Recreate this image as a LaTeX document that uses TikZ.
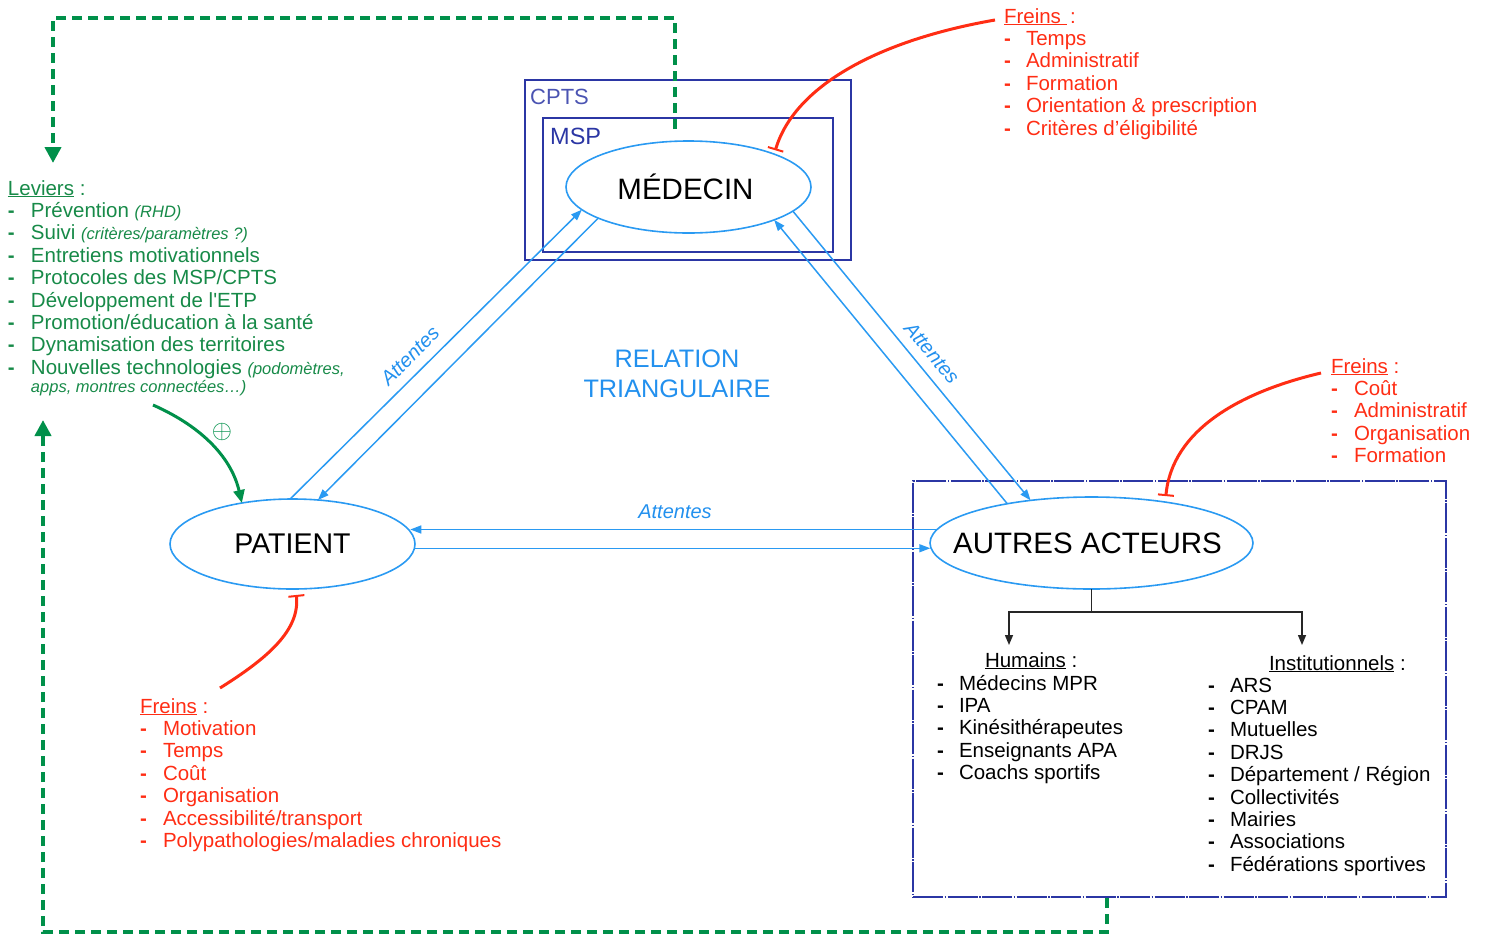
\documentclass[tikz,border=0pt]{standalone}
\usepackage{fontspec}
\setmainfont{Liberation Sans}
\usetikzlibrary{arrows.meta,shapes.geometric}
\definecolor{fred}{HTML}{FF2D14}
\definecolor{fgreen}{HTML}{178A48}
\definecolor{dgreen}{HTML}{00904A}
\definecolor{lblue}{HTML}{2A9AF2}
\definecolor{tblue}{HTML}{2290EE}
\definecolor{navy}{HTML}{2B36A4}
\newcommand\dsh{\textbf{-}}
\begin{document}
\begin{tikzpicture}[x=1pt,y=-1pt,
  lst/.style={inner sep=0pt, outer sep=0pt, anchor=base west, font=\fontsize{20.5}{22.4}\selectfont},
  ell/.style={ellipse, draw=lblue, line width=1.6pt, inner sep=0pt, outer sep=0pt},
  bl/.style={draw=lblue, line width=1.5pt, -{Triangle[length=11pt,width=8pt]}},
  att/.style={text=tblue, font=\fontsize{20}{20}\selectfont\itshape, inner sep=0pt},
  frein/.style={draw=fred, line width=3pt, -{Bar[width=16pt,line width=2pt]}},
  gd/.style={draw=dgreen, line width=4pt, dash pattern=on 10pt off 6pt, -{Triangle[length=16pt,width=16pt]}},
  tk/.style={draw=black!85, line width=1.5pt, -{Triangle[length=10pt,width=8pt]}},
  boxr/.style={draw=navy, line width=1.3pt, inner sep=0pt, outer sep=0pt}]
\useasboundingbox (0,0) rectangle (1486,935);

% boxes
\node[boxr, minimum width=326pt, minimum height=180pt] (cpts) at (688,170) {};
\node[boxr, minimum width=290pt, minimum height=134pt] (msp) at (688,185) {};
\node[anchor=base west, inner sep=0pt, text=navy!85, font=\fontsize{22}{22}\selectfont] (cptsl) at (530,104) {CPTS};
\node[anchor=base west, inner sep=0pt, text=navy, font=\fontsize{23.5}{23.5}\selectfont] (mspl) at (550,144) {MSP};
\node[boxr, dash pattern=on 30pt off 1.5pt on 1.5pt off 1.5pt, minimum width=533pt, minimum height=416pt] (box) at (1179.5,689) {};

% ellipses
\node[ell, minimum width=245pt, minimum height=92pt] (M) at (688.5,187) {\makebox[0pt]{\hspace*{-6pt}\fontsize{29.5}{30}\selectfont MÉDECIN}};
\node[ell, minimum width=245pt, minimum height=90pt] (P) at (292.5,544) {\makebox[0pt]{\fontsize{28.5}{30}\selectfont PATIENT}};
\node[ell, minimum width=323pt, minimum height=92pt] (A) at (1091.5,543) {\makebox[0pt]{\hspace*{-8pt}\fontsize{29.5}{30}\selectfont AUTRES ACTEURS}};

% triangle connectors
\draw[bl] (P.93) -- (M.192);
\draw[bl] (M.199) -- (P.60);
\draw[bl] (M.-13) -- (A.145);
\draw[bl] (A.155) -- (M.-21.5);
\draw[bl] (A.175.2) -- (A.175.2 -| P.6.9);
\draw[bl] (P.-2) -- (P.-2 -| A.181.5);

\node[att, rotate=45] (at1) at (410,356) {Attentes};
\node[att, rotate=-50] (at2) at (932,353) {Attentes};
\node[att] (at3) at (675,512) {Attentes};

\node[align=center, text=tblue, font=\fontsize{25.3}{30}\selectfont, inner sep=0pt] (rel) at (677,374) {RELATION\\TRIANGULAIRE};

% tree
\coordinate (t0) at (1091.5,612);
\coordinate (th) at (1009,645);
\coordinate (ti) at (1302,645);
\draw[draw=black!85, line width=1.5pt] (A.south) -- (t0);
\draw[tk] (t0) -| (th);
\draw[tk] (t0) -| (ti);

\node[lst] (humh) at (985,667) {\underline{Humains} :};
\node[lst] (hum) at (937,690) {\begin{tabular}[t]{@{}p{22pt}@{}l@{}}
\dsh & Médecins MPR\\
\dsh & IPA\\
\dsh & Kinésithérapeutes\\
\dsh & Enseignants APA\\
\dsh & Coachs sportifs
\end{tabular}};
\node[lst] (insth) at (1269,670) {\underline{Institutionnels} :};
\node[lst] (inst) at (1208,692) {\begin{tabular}[t]{@{}p{22pt}@{}l@{}}
\dsh & ARS\\
\dsh & CPAM\\
\dsh & Mutuelles\\
\dsh & DRJS\\
\dsh & Département / Région\\
\dsh & Collectivités\\
\dsh & Mairies\\
\dsh & Associations\\
\dsh & Fédérations sportives
\end{tabular}};

% freins lists
\node[lst, text=fred] (fr1) at (1004,23) {\begin{tabular}[t]{@{}p{22pt}@{}l@{}}
\multicolumn{2}{@{}l@{}}{\underline{Freins\ }\,:}\\
\dsh & Temps\\
\dsh & Administratif\\
\dsh & Formation\\
\dsh & Orientation \& prescription\\
\dsh & Critères d’éligibilité
\end{tabular}};
\node[lst, text=fred] (fr2) at (1331,373) {\begin{tabular}[t]{@{}p{23pt}@{}l@{}}
\multicolumn{2}{@{}l@{}}{\underline{Freins} :}\\
\dsh & Coût\\
\dsh & Administratif\\
\dsh & Organisation\\
\dsh & Formation
\end{tabular}};
\node[lst, text=fred] (fr3) at (140,713) {\begin{tabular}[t]{@{}p{23pt}@{}l@{}}
\multicolumn{2}{@{}l@{}}{\underline{Freins} :}\\
\dsh & Motivation\\
\dsh & Temps\\
\dsh & Coût\\
\dsh & Organisation\\
\dsh & Accessibilité/transport\\
\dsh & Polypathologies/maladies chroniques
\end{tabular}};

% leviers
\node[lst, text=fgreen] (lev) at (8,195) {\begin{tabular}[t]{@{}p{23pt}@{}l@{}}
\multicolumn{2}{@{}l@{}}{\underline{Leviers} :}\\
\dsh & Prévention {\itshape\fontsize{16.5}{18}\selectfont (RHD)}\\
\dsh & Suivi {\itshape\fontsize{16.5}{18}\selectfont (critères/paramètres ?)}\\
\dsh & Entretiens motivationnels\\
\dsh & Protocoles des MSP/CPTS\\
\dsh & Développement de l\textquotesingle ETP\\
\dsh & Promotion/éducation à la santé\\
\dsh & Dynamisation des territoires\\
\dsh & Nouvelles technologies {\itshape\fontsize{16.5}{18}\selectfont (podomètres,}\\[-4.4pt]
 & {\itshape\fontsize{16.5}{18}\selectfont apps, montres connectées…)}
\end{tabular}};

% red freins connectors
\coordinate (f1s) at (995,20);
\coordinate (f2s) at (1321,373);
\coordinate (f3s) at (220,688);
\draw[frein, shorten >=4pt] (f1s) .. controls (880,40) and (795,85) .. (M.21);
\draw[frein, shorten >=6pt] (f2s) .. controls (1240,392) and (1172,430) .. (A.29);
\draw[frein, shorten >=6pt] (f3s) .. controls (268,658) and (300,630) .. (P.-86);

% green lever connector
\coordinate (gs) at (153,405);
\draw[draw=dgreen, line width=3pt, -{Triangle[length=13pt,width=11pt]}] (gs) .. controls (205,428) and (232,460) .. (P.141);
\node[text=dgreen, inner sep=0pt] (plus) at (222,432) {\scalebox{2.6}{$\oplus$}};

% green dashed feedback loops
\coordinate (g1) at (675,129);
\coordinate (g2) at (53,163);
\draw[gd] (g1) -- (675,18) -- (53,18) -- (g2);
\coordinate (g3) at (1107,898);
\coordinate (g4) at (43,420);
\draw[gd] (g3) -- (1107,932) -- (43,932) -- (g4);
\end{tikzpicture}
\end{document}
